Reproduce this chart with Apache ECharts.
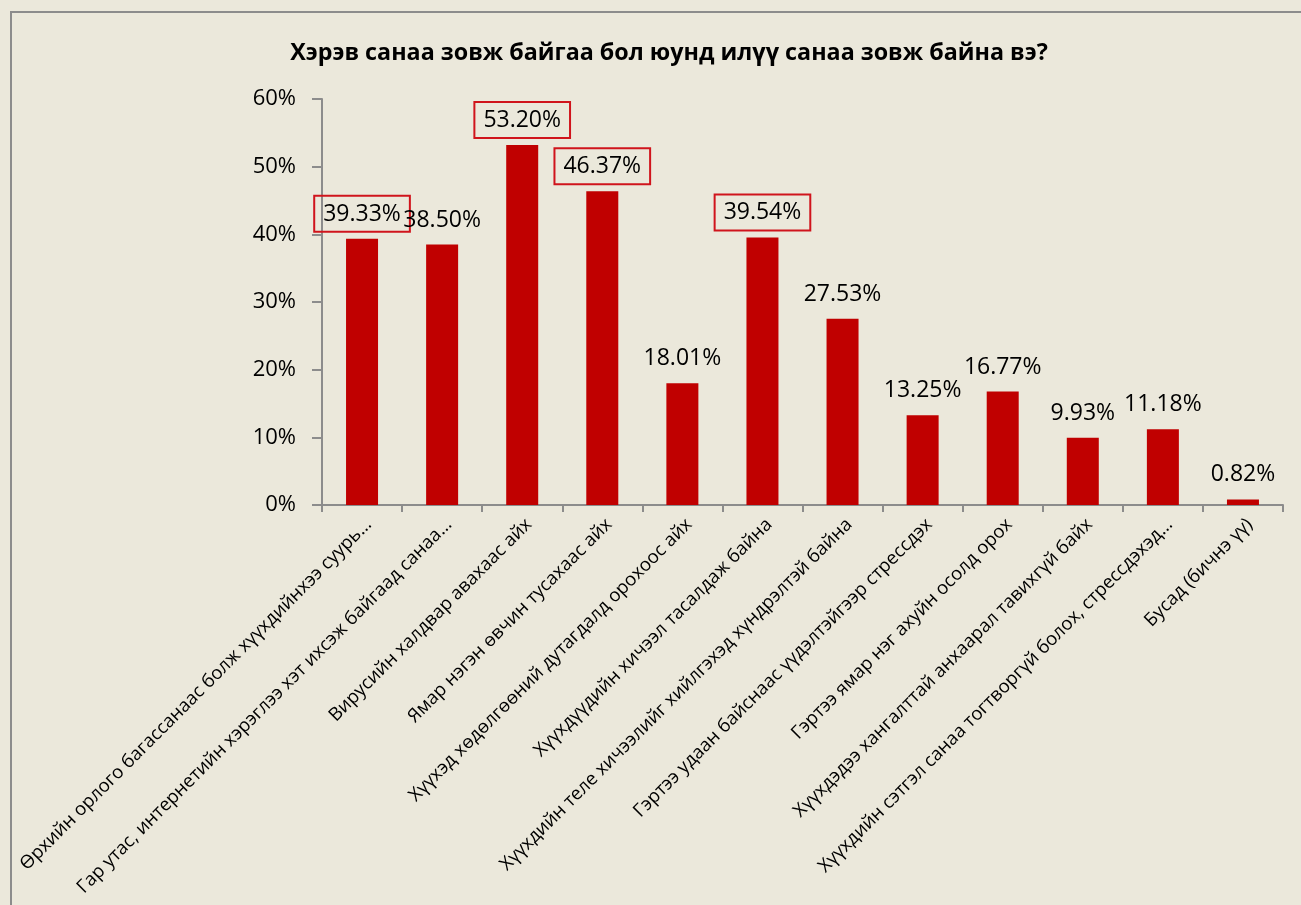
<!DOCTYPE html>
<html>
<head>
<meta charset="utf-8">
<script src="https://cdn.jsdelivr.net/npm/echarts@6/dist/echarts.min.js"></script>
<style>
html,body{margin:0;padding:0;background:#EBE8DB;overflow:hidden;}
#frame{position:absolute;left:10px;top:11px;width:1400px;height:1000px;border:2px solid #8C8C8C;box-sizing:border-box;}
#chart{position:absolute;left:0;top:0;width:1301px;height:905px;}
</style>
</head>
<body>
<div id="frame"></div>
<div id="chart"></div>
<script>
const titleText = "Хэрэв санаа зовж байгаа бол юунд илүү санаа зовж байна вэ?";
const categories = [
  "Өрхийн орлого багассанаас болж хүүхдийнхээ суурь…",
  "Гар утас, интернетийн хэрэглээ хэт ихсэж байгаад санаа…",
  "Вирусийн халдвар авахаас айх",
  "Ямар нэгэн өвчин тусахаас айх",
  "Хүүхэд хөдөлгөөний дутагдалд орохоос айх",
  "Хүүхдүүдийн хичээл тасалдаж байна",
  "Хүүхдийн теле хичээлийг хийлгэхэд хүндрэлтэй байна",
  "Гэртээ удаан байснаас үүдэлтэйгээр стрессдэх",
  "Гэртээ ямар нэг ахуйн осолд орох",
  "Хүүхдэдээ хангалттай анхаарал тавихгүй байх",
  "Хүүхдийн сэтгэл санаа тогтворгүй болох, стрессдэхэд…",
  "Бусад (бичнэ үү)"
];
const values = [39.33, 38.50, 53.20, 46.37, 18.01, 39.54, 27.53, 13.25, 16.77, 9.93, 11.18, 0.82];
const highlighted = [true, false, true, true, false, true, false, false, false, false, false, false];

const FONT = '"Open Sans", "Noto Sans", sans-serif';
const chart = echarts.init(document.getElementById('chart'), null, {renderer:'canvas'});

const data = values.map((v, i) => ({
  value: v,
  label: highlighted[i] ? {borderColor:'#D0141C', borderWidth:2} : {}
}));

chart.setOption({
  backgroundColor: 'transparent',
  animation: false,
  title: {
    text: titleText,
    left: 664, top: 37, textAlign: 'center',
    textStyle: {fontFamily: FONT, fontSize: 23.3, fontWeight: 'bold', color: '#000'}
  },
  grid: {left: 322, right: 18, top: 99, bottom: 400, containLabel: false},
  xAxis: {
    type: 'category',
    data: categories,
    axisLine: {lineStyle: {color: '#8C8C8C', width: 2}},
    axisTick: {show: true, length: 7, lineStyle: {color: '#8C8C8C', width: 2}},
    axisLabel: {rotate: 45, interval: 0, margin: 10, verticalAlign: 'top', fontFamily: FONT, fontSize: 18.5, color: '#000'}
  },
  yAxis: {
    type: 'value', min: 0, max: 60, interval: 10,
    axisLine: {show: true, lineStyle: {color: '#8C8C8C', width: 2}},
    axisTick: {show: true, length: 10, lineStyle: {color: '#8C8C8C', width: 2}},
    splitLine: {show: false},
    axisLabel: {formatter: '{value}%', margin: 26, fontFamily: FONT, fontSize: 22, color: '#000'}
  },
  series: [{
    type: 'bar',
    data: data,
    barWidth: 32,
    itemStyle: {color: '#C00000'},
    label: {
      show: true, position: 'top', distance: 7,
      padding: [7, 9, 6, 9],
      formatter: p => p.value.toFixed(2) + '%',
      fontFamily: FONT, fontSize: 23, color: '#000'
    }
  }]
});
</script>
</body>
</html>
